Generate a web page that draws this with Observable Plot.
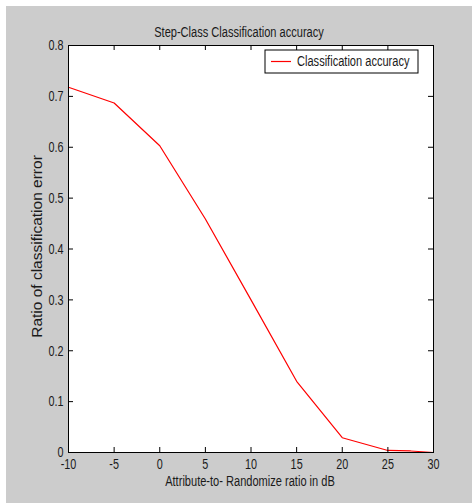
<!DOCTYPE html>
<html>
<head>
<meta charset="utf-8">
<script src="https://cdn.jsdelivr.net/npm/d3@7"></script>
<script src="https://cdn.jsdelivr.net/npm/@observablehq/plot@0.6"></script>
<style>
  html, body { margin: 0; padding: 0; background: #ffffff; }
  #chart { position: absolute; left: 6px; top: 6px; }
  #chart svg { display: block; background: #cccccc; }
</style>
</head>
<body>
<div id="chart"></div>
<script>
// Attribute-to-randomize ratio (dB) and the measured ratio of classification error
const snrDb = [-10, -5, 0, 5, 10, 15, 20, 25, 27.5, 30];
const errorRatio = [0.718, 0.687, 0.603, 0.459, 0.300, 0.140, 0.029, 0.004, 0.003, 0.0];

const xTicks = [-10, -5, 0, 5, 10, 15, 20, 25, 30];
const yTicks = [0, 0.1, 0.2, 0.3, 0.4, 0.5, 0.6, 0.7, 0.8];

const titleText = "Step-Class Classification accuracy";
const xLabel = "Attribute-to- Randomize ratio in dB";
const yLabel = "Ratio of classification error";
const seriesName = "Classification accuracy";

const data = snrDb.map((x, i) => ({x, y: errorRatio[i]}));

const W = 466, H = 497;
const m = {left: 62, right: 39, top: 39, bottom: 51};
const innerW = W - m.left - m.right;
const innerH = H - m.top - m.bottom;
const tickLen = 5;
const font = "'Liberation Sans', Arial, sans-serif";
// horizontal squeeze that gives the text a narrow-face look
const squeeze = {narrow: 0.79, "narrow-tick": 0.72};
const ink = "#1a1a1a";

const plot = Plot.plot({
  width: W,
  height: H,
  marginLeft: m.left,
  marginRight: m.right,
  marginTop: m.top,
  marginBottom: m.bottom,
  style: {fontFamily: font, fontSize: "14px", color: ink, background: "#cccccc"},
  x: {domain: [-10, 30], axis: null},
  y: {domain: [0, 0.8], axis: null},
  marks: [
    Plot.frame({fill: "#ffffff", stroke: "none"}),
    Plot.line(data, {x: "x", y: "y", stroke: "#ff0000", strokeWidth: 1.2}),
    // inward ticks on all four sides
    Plot.tickX(xTicks, {x: d => d, insetTop: innerH - tickLen, stroke: "#000"}),
    Plot.tickX(xTicks, {x: d => d, insetBottom: innerH - tickLen, stroke: "#000"}),
    Plot.tickY(yTicks, {y: d => d, insetRight: innerW - tickLen, stroke: "#000"}),
    Plot.tickY(yTicks, {y: d => d, insetLeft: innerW - tickLen, stroke: "#000"}),
    Plot.frame({stroke: "#000", strokeWidth: 1}),
    // tick labels
    Plot.text(xTicks, {x: d => d, text: d => String(d), frameAnchor: "bottom", lineAnchor: "top", dy: 6, fontSize: 15, fill: ink, className: "narrow-tick"}),
    Plot.text(yTicks, {y: d => d, text: d => String(d), frameAnchor: "left", textAnchor: "end", dx: -5, fontSize: 15, fill: ink, className: "narrow-tick"}),
    // title and axis labels
    Plot.text([titleText], {text: d => d, frameAnchor: "top", dx: -12, dy: -18.5, fontSize: 14, fill: ink, className: "narrow"}),
    Plot.text([xLabel], {text: d => d, frameAnchor: "bottom", dx: -1, dy: 33, fontSize: 14, fill: ink, className: "narrow"}),
    Plot.text([yLabel], {text: d => d, frameAnchor: "left", textAnchor: "middle", dx: -31, dy: -2.5, rotate: -90, fontSize: 15.5, fill: ink})
  ]
});

// legend box in the upper right of the axes
const svg = d3.select(plot);
const [x0, x1] = plot.scale("x").range;
const [yb, yt] = plot.scale("y").range;
const box = {w: 153, h: 23};
const bx = x1 - 15 - box.w, by = yt + 5;
const lg = svg.append("g").attr("class", "narrow").attr("font-family", font).attr("font-size", 14);
lg.append("rect").attr("x", bx).attr("y", by).attr("width", box.w).attr("height", box.h)
  .attr("fill", "#fff").attr("stroke", "#000");
lg.append("line").attr("x1", bx + 6).attr("x2", bx + 26).attr("y1", by + box.h / 2).attr("y2", by + box.h / 2)
  .attr("stroke", "#ff0000").attr("stroke-width", 1.2);
lg.append("text").attr("x", bx + 32).attr("y", by + box.h / 2).attr("dy", "0.35em")
  .attr("text-anchor", "start").attr("fill", ink).text(seriesName);

document.getElementById("chart").appendChild(plot);

// squeeze the narrow texts once they can be measured
for (const [cls, k] of Object.entries(squeeze)) {
  svg.selectAll(`.${cls} text`).each(function () {
    const len = this.getComputedTextLength();
    if (len > 0) {
      this.setAttribute("textLength", (len * k).toFixed(2));
      this.setAttribute("lengthAdjust", "spacingAndGlyphs");
    }
  });
}
</script>
</body>
</html>
